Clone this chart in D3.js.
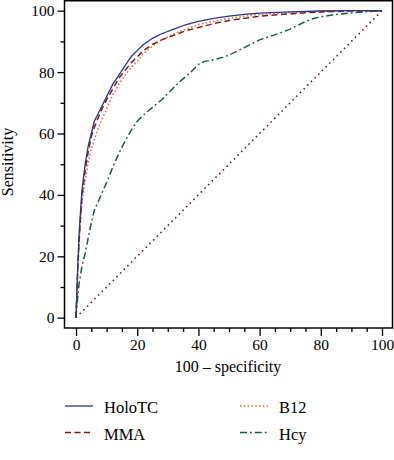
<!DOCTYPE html>
<html><head><meta charset="utf-8">
<script src="https://cdn.jsdelivr.net/npm/d3@7"></script>
<style>body{margin:0;background:#fff}svg{display:block}</style>
</head><body>
<svg id="c" width="394" height="460"></svg>
<script>
const seriesNames = ["HoloTC", "MMA", "B12", "Hcy"];
const holoTC = [[0,0],[0.5,15],[1,27],[1.5,35],[2,42],[3,50],[4,56],[5,60],[6,64],[8,68],[10,72],[12,76],[14,79],[16,82],[18,85],[20,87],[22,89],[25,91],[28,92.5],[32,94],[36,95.5],[40,96.5],[45,97.5],[50,98.2],[55,98.8],[60,99.2],[70,99.6],[80,99.9],[90,100],[100,100]];
const mma = [[0,0],[0.5,14],[1,25],[1.5,33],[2,40],[3,48],[4,54],[5,59],[6,62],[8,67],[10,71],[12,74.5],[14,78],[16,80.5],[18,83],[20,85],[22,87],[25,89],[28,90.5],[32,92],[36,93.5],[40,94.5],[45,95.8],[50,96.8],[55,97.5],[60,98.2],[70,99],[80,99.6],[90,99.9],[100,100]];
const b12 = [[0,0],[0.5,13],[1,24],[1.5,32],[2,38],[3,45],[4,50.5],[5,55],[6,58],[7,61],[8,63.5],[10,68],[12,72.5],[14,76],[16,79],[18,81.5],[20,83.5],[22,86],[25,88.5],[28,90.5],[32,92.5],[36,94],[40,95.5],[45,96.5],[50,97.5],[55,98.2],[60,98.8],[70,99.4],[80,99.8],[90,100],[100,100]];
const hcy = [[0,0],[0.5,6],[1,11],[2,17],[3,21],[4,26],[5,31],[6,35],[8,39.5],[10,44],[12,49],[14,53.5],[16,57.5],[18,61],[20,64],[22,66],[25,68.5],[28,71],[31,74],[34,77],[37,79.5],[40,82.5],[42,83.5],[45,84],[48,84.8],[51,86],[54,87.5],[57,89],[60,90.5],[63,91.5],[66,92.5],[70,94],[74,96],[77,97.3],[80,98],[85,98.8],[90,99.3],[95,99.7],[100,100]];
const reference = [[0,0],[100,100]];
const xTicks = [0,20,40,60,80,100];
const yTicks = [0,20,40,60,80,100];

const svg = d3.select("#c");
const font = "'Liberation Serif','DejaVu Serif',serif";
const x = d3.scaleLinear().domain([0,100]).range([76,382]);
const y = d3.scaleLinear().domain([0,100]).range([317.7,10.7]);
const frame = {l:64.5, r:392.5, t:0.75, b:328};

svg.append("rect").attr("x",frame.l).attr("y",frame.t).attr("width",frame.r-frame.l).attr("height",frame.b-frame.t)
  .attr("fill","none").attr("stroke","#000").attr("stroke-width",1.5);

// y axis
const yAx = svg.append("g").attr("transform",`translate(${frame.l},0)`)
  .call(d3.axisLeft(y).tickValues(yTicks).tickSize(7).tickPadding(3).tickFormat(d3.format("d")));
yAx.select(".domain").remove();
yAx.selectAll("line").attr("stroke-width",1.3);
yAx.selectAll("text").attr("font-family",font).attr("font-size",15.5).attr("fill","#000");
svg.append("g").attr("transform",`translate(${frame.l},0)`)
  .call(d3.axisLeft(y).tickValues(d3.range(10,100,10).filter(v=>v%20)).tickSize(4).tickFormat(""))
  .call(g=>g.select(".domain").remove()).selectAll("line").attr("stroke-width",1.3);

// x axis
const xAx = svg.append("g").attr("transform",`translate(0,${frame.b})`)
  .call(d3.axisBottom(x).tickValues(xTicks).tickSize(8).tickPadding(3).tickFormat(d3.format("d")));
xAx.select(".domain").remove();
xAx.selectAll("line").attr("stroke-width",1.3);
xAx.selectAll("text").attr("font-family",font).attr("font-size",15.5).attr("fill","#000");
svg.append("g").attr("transform",`translate(0,${frame.b})`)
  .call(d3.axisBottom(x).tickValues(d3.range(5,100,5).filter(v=>v%20)).tickSize(4).tickFormat(""))
  .call(g=>g.select(".domain").remove()).selectAll("line").attr("stroke-width",1.3);

svg.append("text").attr("x",228).attr("y",372).attr("text-anchor","middle")
  .attr("font-family",font).attr("font-size",16).text("100 – specificity");
svg.append("text").attr("transform","translate(13,162) rotate(-90)").attr("text-anchor","middle")
  .attr("font-family",font).attr("font-size",16).text("Sensitivity");

const line = d3.line().x(d=>x(d[0])).y(d=>y(d[1]));
const styles = [
  {name:"HoloTC", data:holoTC, color:"#2b3585", dash:null, w:1.3},
  {name:"MMA", data:mma, color:"#7a1c1c", dash:"6 3.5", w:1.5},
  {name:"B12", data:b12, color:"#e0743a", dash:"1.6 2.2", w:1.5},
  {name:"Hcy", data:hcy, color:"#1f5c3c", dash:"7 3 1.8 3", w:1.5}
];
svg.append("path").datum(reference).attr("d",line).attr("fill","none")
  .attr("stroke","#5a2638").attr("stroke-width",1.6).attr("stroke-dasharray","1.6 3.6");
[3,2,1,0].forEach(i=>{
  const s = styles[i];
  svg.append("path").datum(s.data).attr("d",line).attr("fill","none")
    .attr("stroke",s.color).attr("stroke-width",s.w).attr("stroke-dasharray",s.dash);
});

// legend
const legPos = [[65,406],[65,432.5],[240,406],[240,432.5]];
const legOrder = ["HoloTC","MMA","B12","Hcy"];
legOrder.forEach((n,i)=>{
  const s = styles.find(t=>t.name===n);
  const [lx,ly] = legPos[i];
  svg.append("line").attr("x1",lx).attr("x2",lx+28).attr("y1",ly).attr("y2",ly)
    .attr("stroke",s.color).attr("stroke-width",s.w).attr("stroke-dasharray",s.dash);
  svg.append("text").attr("x",lx+39).attr("y",ly+7).attr("font-family",font).attr("font-size",16.5).text(n);
});
</script>
</body></html>
